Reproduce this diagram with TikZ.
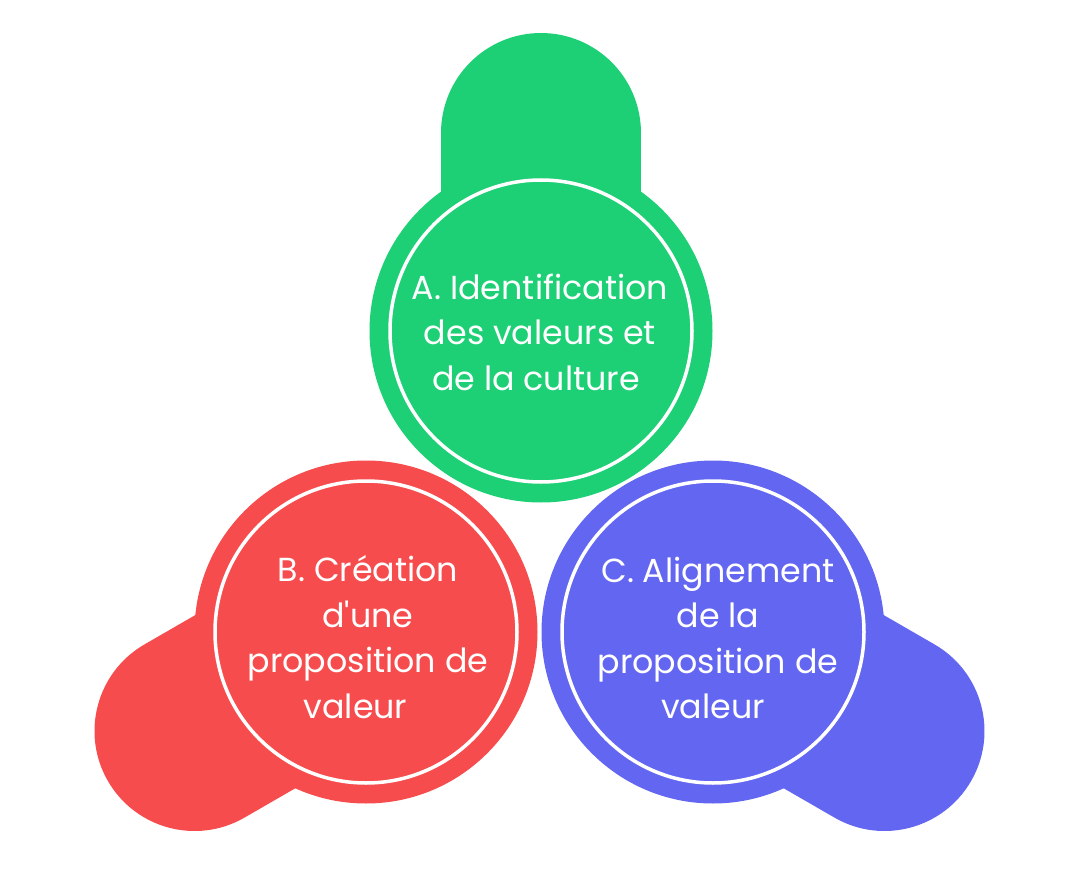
\documentclass[tikz,border=0pt]{standalone}
\usepackage{fontspec}
\setmainfont{Poppins}
\usepackage{tikz}
\usetikzlibrary{positioning}
\usepackage{xcolor}
\definecolor{CultGreen}{HTML}{1DD075}
\definecolor{CultRed}{HTML}{F74C4E}
\definecolor{CultBlue}{HTML}{6366F1}

\begin{document}
\begin{tikzpicture}[x=1pt,y=-1pt,every node/.style={font=\fontsize{33.3}{45.5}\selectfont,align=center,text=white},
    bubble/.style={circle,minimum size=343pt,inner sep=0pt},
    ring/.style={circle,draw=white,line width=3.5pt,minimum size=302pt,inner sep=0pt},
    tab/.style={line width=200pt,line cap=round}]
    \useasboundingbox (0,0) rectangle (1080,880);
    \coordinate (identc) at (541,331);
    \coordinate (identend) at (541,133);
    \coordinate (creac) at (366,632);
    \coordinate (creaend) at (194.5,731);
    \coordinate (alignc) at (713,632);
    \coordinate (alignend) at (884.5,731);
    \foreach \x/\y/\c in {identc/identend/CultGreen,creac/creaend/CultRed,alignc/alignend/CultBlue}{\draw[tab,\c] (\x)--(\y);}
    \node[bubble,fill=CultGreen] (ident) at (identc) {};
    \node[bubble,fill=CultRed] (crea) at (creac) {};
    \node[bubble,fill=CultBlue] (align) at (alignc) {};
    \node[ring] (identring) at (ident.center) {};
    \node[ring] (crearing) at (crea.center) {};
    \node[ring] (alignring) at (align.center) {};
    \node (identtxt) at (540,332) {A. Identification\\des valeurs et\\de la culture\hspace*{8pt}};
    \node (creatxt) at (368,637) {B. Création\\d\textquotesingle une\\proposition de\\valeur\hspace*{25pt}};
    \node (aligntxt) at (718,638) {C. Alignement\\de la\\proposition de\\valeur\hspace*{10pt}};
\end{tikzpicture}
\end{document}
